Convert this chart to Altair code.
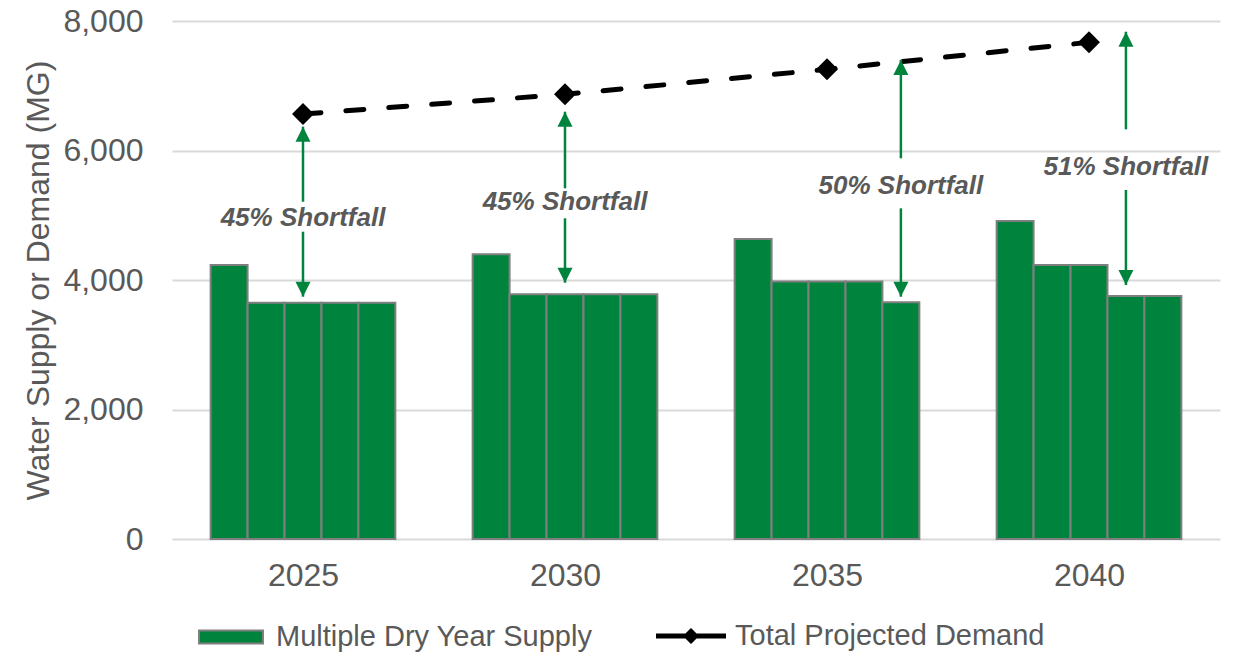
import json
import altair as alt
import pandas as pd

# ---------------- data ----------------
years = ["2025", "2030", "2035", "2040"]
supply_2025 = [4232, 3650, 3650, 3650, 3650]
supply_2030 = [4397, 3779, 3779, 3779, 3779]
supply_2035 = [4633, 3975, 3975, 3975, 3656]
supply_2040 = [4911, 4232, 4232, 3753, 3753]
demand = [6564, 6868, 7254, 7671]

shortfall_labels = ["45% Shortfall", "45% Shortfall", "50% Shortfall", "51% Shortfall"]
arrow_slot = [2, 2, 4, 3]                 # bar slot (0-4) the arrow sits over
arrow_top = [6368, 6599, 7398, 7834]      # upper arrow tip
arrow_top_gap = [5209, 5416, 5880, 6327]  # upper segment ends (above label)
arrow_bot_gap = [4746, 4953, 5107, 5390]  # lower segment starts (below label)
arrow_bottom = [3742, 3958, 3742, 3923]   # lower arrow tip
label_y = [4958, 5209, 5457, 5750]
y_ticks = [0, 2000, 4000, 6000, 8000]

SUPPLY = "Multiple Dry Year Supply"
DEMAND = "Total Projected Demand"

# ---------------- styling ----------------
GREEN = "#00843D"
GRAY_TXT = "#595959"
FONT = "Liberation Sans"
BAR_W = 0.141  # bar width in group units

supply_all = [supply_2025, supply_2030, supply_2035, supply_2040]
bar_rows = []
for g, vals in enumerate(supply_all):
    for s, v in enumerate(vals):
        bar_rows.append({"g": g, "slot": s, "value": v, "series": SUPPLY})
bars_df = pd.DataFrame(bar_rows)

demand_df = pd.DataFrame({"g": list(range(len(years))), "demand": demand,
                          "series": [DEMAND] * len(years)})

arrows_df = pd.DataFrame({
    "g": list(range(len(years))),
    "slot": arrow_slot,
    "top": arrow_top,
    "top_gap": arrow_top_gap,
    "bot_gap": arrow_bot_gap,
    "bottom": arrow_bottom,
    "label": shortfall_labels,
    "label_y": label_y,
})

slot_expr = f"datum.g + 0.5 + (datum.slot - 2) * {BAR_W}"

x_scale = alt.Scale(domain=[0, len(years)], nice=False, zero=False)
y_scale = alt.Scale(domain=[0, 8000], nice=False)

label_expr = json.dumps(years) + "[floor(datum.value)]"

x_axis = alt.Axis(
    values=[i + 0.5 for i in range(len(years))], labelExpr=label_expr,
    title=None, grid=False, domain=False, ticks=False, tickSize=0,
    labelFont=FONT, labelFontSize=32, labelColor=GRAY_TXT, labelPadding=21)
y_axis = alt.Axis(
    values=y_ticks, labelExpr="format(datum.value, ',')",
    title="Water Supply or Demand (MG)", titleFont=FONT, titleFontSize=32,
    titleFontWeight="normal", titleColor=GRAY_TXT, titlePadding=7,
    labelFont=FONT, labelFontSize=32, labelColor=GRAY_TXT, labelPadding=29,
    grid=True, gridColor="#d9d9d9", gridWidth=2,
    domain=False, ticks=False, tickSize=0)

RECT_PATH = "M-0.914,-0.186H0.914V0.186H-0.914Z"
DEMAND_PATH = "M-1,-0.07H1V0.07H-1Z M0,-0.23L0.23,0L0,0.23L-0.23,0Z"

legend_common = dict(
    title=None, orient="none", legendY=580, direction="horizontal",
    symbolSize=4900, labelFont=FONT, labelFontSize=29, labelColor=GRAY_TXT,
    labelOffset=9, labelLimit=500, padding=0,
)


def X(field):
    return alt.X(field, scale=x_scale, axis=x_axis)


def Y(field):
    return alt.Y(field, scale=y_scale, axis=y_axis)


bars = alt.Chart(bars_df).transform_calculate(
    xc=slot_expr
).transform_calculate(
    x0=f"datum.xc - {BAR_W / 2}", x1=f"datum.xc + {BAR_W / 2}"
).mark_rect(stroke="#7f7f7f", strokeWidth=2).encode(
    x=X("x0:Q"),
    x2="x1:Q",
    y=Y("value:Q"),
    y2=alt.datum(0),
    color=alt.Color("series:N", scale=alt.Scale(domain=[SUPPLY], range=[GREEN]),
                    legend=alt.Legend(legendX=23, symbolType=RECT_PATH,
                                      symbolStrokeColor="#7f7f7f", symbolStrokeWidth=2,
                                      **legend_common)),
)

line = alt.Chart(demand_df).transform_calculate(
    xc="datum.g + 0.5"
).mark_line(color="black", strokeWidth=5, strokeDash=[18, 25], strokeCap="round").encode(
    x=X("xc:Q"),
    y=Y("demand:Q"),
)

diamonds = alt.Chart(demand_df).transform_calculate(
    xc="datum.g + 0.5"
).mark_point(shape="diamond", filled=True, size=480, color="black").encode(
    x=X("xc:Q"),
    y=Y("demand:Q"),
    opacity=alt.Opacity("series:N", scale=alt.Scale(domain=[DEMAND], range=[1]),
                        legend=alt.Legend(legendX=484, symbolType=DEMAND_PATH,
                                          symbolFillColor="black", symbolStrokeWidth=0,
                                          **legend_common)),
)

arrow_base = alt.Chart(arrows_df).transform_calculate(xc=slot_expr)

seg_top = arrow_base.mark_rule(color=GREEN, strokeWidth=2.5).encode(
    x=X("xc:Q"),
    y=Y("top:Q"),
    y2="top_gap:Q",
)
seg_bot = arrow_base.mark_rule(color=GREEN, strokeWidth=2.5).encode(
    x=X("xc:Q"),
    y=Y("bot_gap:Q"),
    y2="bottom:Q",
)
head_up = arrow_base.mark_point(shape="M0,-1L1,1L-1,1Z", filled=True, size=225,
                                color=GREEN, opacity=1, yOffset=7.5).encode(
    x=X("xc:Q"),
    y=Y("top:Q"),
)
head_down = arrow_base.mark_point(shape="M0,1L1,-1L-1,-1Z", filled=True, size=225,
                                  color=GREEN, opacity=1, yOffset=-7.5).encode(
    x=X("xc:Q"),
    y=Y("bottom:Q"),
)
labels = arrow_base.mark_text(font=FONT, fontSize=26, fontStyle="italic", fontWeight="bold",
                              color=GRAY_TXT, align="center", baseline="middle").encode(
    x=X("xc:Q"),
    y=Y("label_y:Q"),
    text="label:N",
)

chart = alt.layer(
    bars, line, diamonds, seg_top, seg_bot, head_up, head_down, labels
).properties(
    width=1048,
    height=518,
    autosize=alt.AutoSizeParams(type="none"),
    padding={"left": 164, "top": 13, "right": 7, "bottom": 120},
).configure_view(stroke=None)

chart.save("out.html", embed_options={"renderer": "svg", "actions": False})
